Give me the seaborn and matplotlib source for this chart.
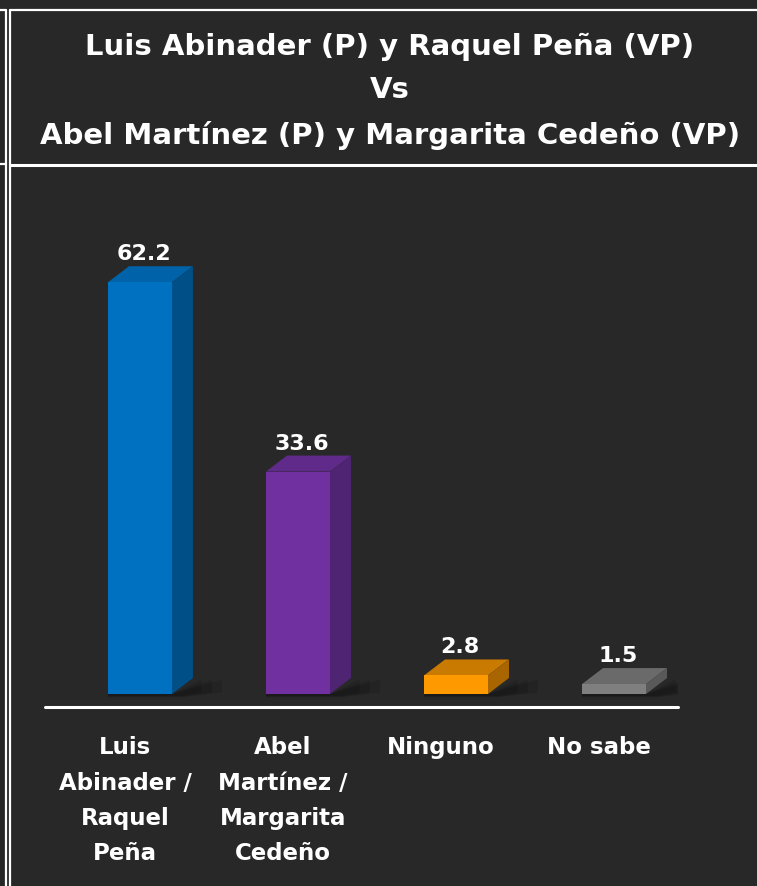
import matplotlib
matplotlib.use("Agg")
import matplotlib.pyplot as plt
import matplotlib.transforms as mtransforms
from matplotlib.patches import Polygon
import seaborn as sns
import pandas as pd

categories = ["Luis\nAbinader /\nRaquel\nPeña", "Abel\nMartínez /\nMargarita\nCedeño", "Ninguno", "No sabe"]
values = [62.2, 33.6, 2.8, 1.5]
value_labels = ["62.2", "33.6", "2.8", "1.5"]
front_colors = ["#0070C0", "#7030A0", "#FF9900", "#7F7F7F"]
top_colors = ["#0062A8", "#5F2A8A", "#C97A00", "#6A6A6A"]
side_colors = ["#004F87", "#4E2473", "#A86500", "#595959"]
title_lines = ["Luis Abinader (P) y Raquel Peña (VP)", "Vs", "Abel Martínez (P) y Margarita Cedeño (VP)"]

BG = "#282828"
sns.set_theme(style="dark")
plt.rcParams["font.family"] = ["DejaVu Sans"]

W, H = 757, 886
fig = plt.figure(figsize=(W / 100, H / 100), dpi=100, facecolor=BG)

def px(x, y):
    return x / W, 1 - y / H

# frame lines
line_kw = dict(color="white", lw=1.6, transform=fig.transFigure)
fig.add_artist(plt.Line2D([6 / W, 6 / W], [0, 1 - 10 / H], **line_kw))
fig.add_artist(plt.Line2D([10 / W, 10 / W], [0, 1 - 10 / H], **line_kw))
fig.add_artist(plt.Line2D([0, 6 / W], [1 - 10 / H, 1 - 10 / H], **line_kw))
fig.add_artist(plt.Line2D([10 / W, 1], [1 - 10 / H, 1 - 10 / H], **line_kw))
fig.add_artist(plt.Line2D([0, 6 / W], [1 - 164 / H, 1 - 164 / H], **line_kw))
fig.add_artist(plt.Line2D([10 / W, 1], [1 - 165 / H, 1 - 165 / H], lw=2.2, color="white", transform=fig.transFigure))

# title
for t, y in zip(title_lines, [47, 90, 135]):
    fig.text(*px(390, y), t, ha="center", va="center", color="white",
             fontsize=21, fontweight="bold")

# main axes
xl, xr = -0.601, 3.405
ax_left, ax_right, ax_top, ax_bot = 45, 678, 170, 707
ax = fig.add_axes([ax_left / W, 1 - ax_bot / H, (ax_right - ax_left) / W, (ax_bot - ax_top) / H])
ax.set_facecolor("none")
df = pd.DataFrame({"cat": categories, "val": values})
sns.barplot(data=df, x="cat", y="val", hue="cat", palette=front_colors, legend=False,
            width=0.405, saturation=1, ax=ax, linewidth=0)
ax.set_xlim(xl, xr)
px_per_unit_y = 6.62
y_bottom = -(707 - 694) / px_per_unit_y
y_top = (694 - 170) / px_per_unit_y
ax.set_ylim(y_bottom, y_top)

dx = 21 / 158.0
dy = 16 / px_per_unit_y
for i, p in enumerate(ax.patches[:len(values)]):
    x0 = p.get_x(); w = p.get_width(); h = p.get_height()
    # soft shadow
    for k, a in enumerate([0.12, 0.12, 0.12]):
        s = 1.0 + 0.35 * k
        sh = Polygon([(x0 + w, 0), (x0 + w + dx * 1.4 * s, dy * 0.9), (x0 + w + dx * 1.4 * s, dy * 0.1),
                      (x0 + w + dx * 0.5, -dy * 0.12 * s), (x0, -dy * 0.12 * s), (x0, 0)],
                     closed=True, facecolor="black", alpha=a, edgecolor="none", zorder=1)
        ax.add_patch(sh)
    top = Polygon([(x0, h), (x0 + w, h), (x0 + w + dx, h + dy), (x0 + dx, h + dy)],
                  closed=True, facecolor=top_colors[i], edgecolor="none", zorder=3)
    side = Polygon([(x0 + w, 0), (x0 + w + dx, dy), (x0 + w + dx, h + dy), (x0 + w, h)],
                   closed=True, facecolor=side_colors[i], edgecolor="none", zorder=3)
    ax.add_patch(top); ax.add_patch(side)
    p.set_zorder(4)
    ax.annotate(value_labels[i], (x0 + w / 2, h + dy), xytext=(4, 12), textcoords="offset pixels",
                ha="center", va="center", color="white", fontsize=16, fontweight="bold",
                family="DejaVu Sans", zorder=5)

ax.axhline(y_bottom, color="white", lw=2.2, xmin=0, xmax=1, clip_on=False)
for s in ax.spines.values():
    s.set_visible(False)
ax.set_yticks([])
ax.set_xlabel(""); ax.set_ylabel("")
ax.tick_params(axis="x", length=0, pad=21)
offset = mtransforms.ScaledTranslation(-15 / 100, 0, fig.dpi_scale_trans)
for lab in ax.get_xticklabels():
    lab.set_color("white")
    lab.set_fontsize(16.5)
    lab.set_fontweight("bold")
    lab.set_linespacing(1.69)
    lab.set_va("top")
    lab.set_transform(lab.get_transform() + offset)
ax.grid(False)

fig.savefig("out.png", dpi=100, facecolor=BG)
